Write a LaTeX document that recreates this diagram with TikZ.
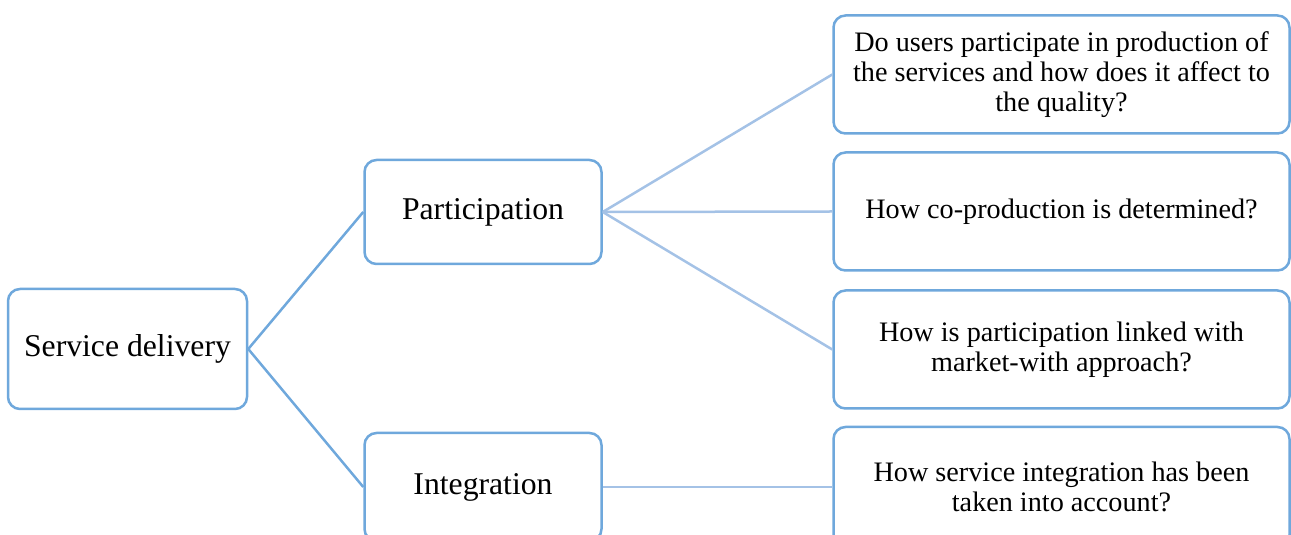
\documentclass[tikz,border=0pt]{standalone}
\usepackage{fontspec}
\setmainfont{Liberation Serif}
\definecolor{boxline}{HTML}{6FA8DC}
\definecolor{lightline}{HTML}{A4C2E6}
\tikzset{
  mainbox/.style={draw=boxline, line width=2.5pt, rounded corners=12pt, fill=white,
    inner sep=0pt, minimum width=237pt, minimum height=104pt,
    font=\fontsize{31.7}{34}\selectfont},
  qbox/.style={draw=boxline, line width=2.5pt, rounded corners=12pt, fill=white,
    inner sep=0pt, minimum width=456pt, minimum height=118pt,
    align=center, font=\fontsize{28.2}{30}\selectfont},
  strong/.style={draw=boxline, line width=2.5pt},
  soft/.style={draw=lightline, line width=2.5pt},
}
\begin{document}
\begin{tikzpicture}[x=1pt,y=1pt]
  \useasboundingbox (0,0) rectangle (1291,535);
  \clip (0,0) rectangle (1291,535);
  % first and second level
  \node[mainbox, minimum width=239pt, minimum height=120pt] (sd) at (127.5,186) {Service delivery};
  \node[mainbox] (part) at (483,323) {Participation};
  \node[mainbox, minimum height=108pt] (integ) at (483,48) {Integration};
  % questions
  \node[qbox] (q1) at (1061.5,460.5) {Do users participate in production of\\ the services and how does it affect to\\ the quality?};
  \node[qbox] (q2) at (1061.5,323.5) {How co-production is determined?};
  \node[qbox] (q3) at (1061.5,185.5) {How is participation linked with\\ market-with approach?};
  \node[qbox, minimum height=120pt] (q4) at (1061.5,48) {How service integration has been\\ taken into account?};
  % connectors
  \draw[strong] (sd.east) -- (part.west);
  \draw[strong] (sd.east) -- (integ.west);
  \draw[soft] (part.east) -- (q1.west);
  \draw[soft] (part.east) -- (q2.west);
  \draw[soft] (part.east) -- (q3.west);
  \draw[soft] (integ.east) -- (q4.west);
\end{tikzpicture}
\end{document}
